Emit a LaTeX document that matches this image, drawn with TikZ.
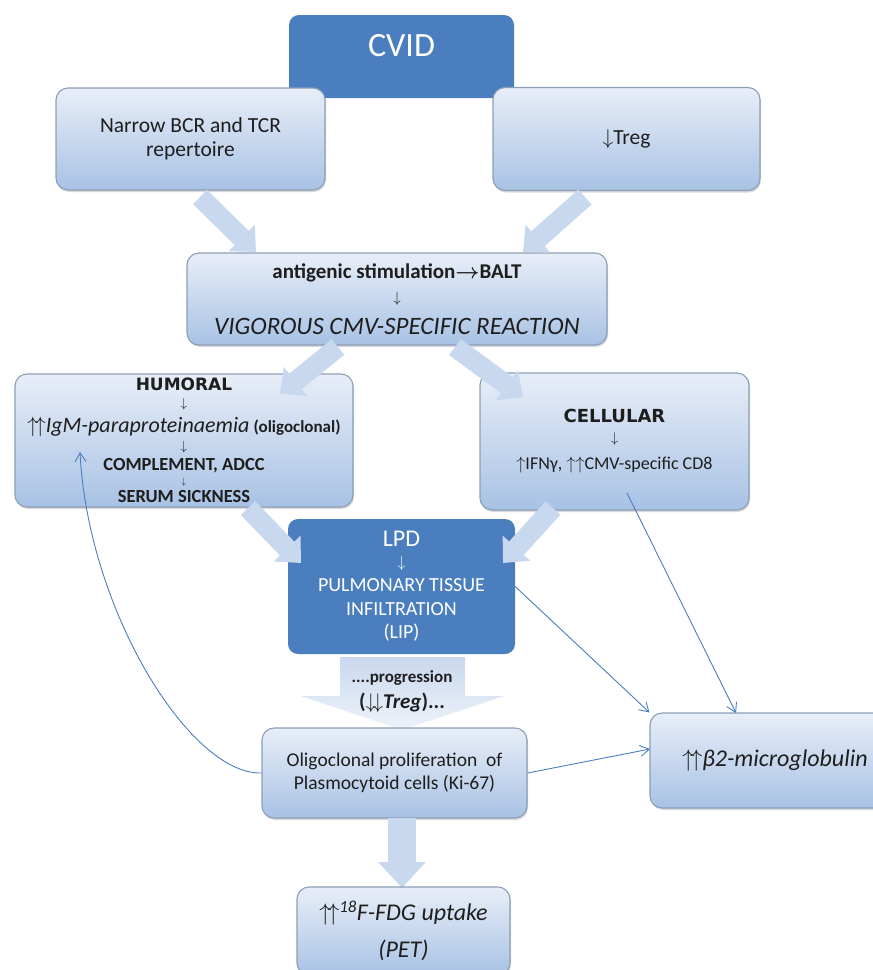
\documentclass[tikz,border=0pt]{standalone}
\usepackage{fix-cm}
\usepackage{fontspec}
\setmainfont{Carlito}
\newfontfamily\heavyfont{DejaVu Sans}
\usetikzlibrary{arrows.meta, shadows}

\definecolor{darkblue}{HTML}{4A7EBF}
\definecolor{boxtop}{HTML}{E8EEF8}
\definecolor{boxbottom}{HTML}{A8C2E4}
\definecolor{boxline}{HTML}{8C9EB6}
\definecolor{arrowfill}{HTML}{C8D8EE}
\definecolor{progtop}{HTML}{C9D8EE}
\definecolor{progbottom}{HTML}{EEF3FA}
\definecolor{txt}{HTML}{1E1E1E}

\tikzset{
  lightbox/.style={draw=boxline, line width=1.1pt, rounded corners=12pt, top color=boxtop, bottom color=boxbottom,
    align=center, text=txt, inner sep=0pt, drop shadow={shadow xshift=1pt, shadow yshift=-2pt, opacity=0.3}},
  darkbox/.style={fill=darkblue, rounded corners=10pt, align=center, text=white, inner sep=0pt},
  blockarrow/.style={line width=20pt, draw=arrowfill, -{Triangle[width=36pt,length=20pt]}},
  link/.style={draw=darkblue, line width=0.9pt, -{Straight Barb[length=9pt,width=11pt]}},
}

\begin{document}
\begin{tikzpicture}[x=1pt, y=-1pt]
  \useasboundingbox (0,0) rectangle (873,970);
  \clip (0,0) rectangle (873,970);

  % top row
  \node[darkbox, minimum width=225pt, minimum height=83pt, text height=22pt, text depth=22pt,
    font=\fontsize{34}{36}\selectfont] (cvid) at (401.5,56.5) {CVID};
  \node[lightbox, minimum width=269pt, minimum height=102pt, font=\fontsize{21.5}{24}\selectfont] (narrow) at (190.5,139)
    {Narrow BCR and TCR\\repertoire};
  \node[lightbox, minimum width=267pt, minimum height=103pt, font=\fontsize{21.5}{24}\selectfont] (treg) at (626.5,139)
    {$\downarrow$Treg};

  \coordinate (a1s) at (200,197); \coordinate (a1e) at (256,252);
  \coordinate (a2s) at (585,197); \coordinate (a2e) at (523,252);

  \node[lightbox, minimum width=420pt, minimum height=92pt, font=\fontsize{21}{24}\selectfont] (antig) at (397,299)
    {\textbf{antigenic stimulation{\boldmath$\rightarrow$}BALT}\\[0pt]
     {\fontsize{15}{17}\selectfont$\downarrow$}\\[8pt]
     {\itshape\fontsize{25}{28}\selectfont VIGOROUS CMV-SPECIFIC REACTION}};
  \draw[blockarrow] (a1s) -- (a1e);
  \draw[blockarrow] (a2s) -- (a2e);

  % humoral / cellular
  \node[lightbox, minimum width=338pt, minimum height=133pt, font=\fontsize{18.5}{20}\selectfont\bfseries] (humoral) at (184,440.5)
    {{\heavyfont\bfseries\fontsize{17}{20}\selectfont HUMORAL}\\[-3pt]
     {\mdseries\fontsize{13}{15}\selectfont$\downarrow$}\\[5pt]
     {\mdseries\itshape\fontsize{22}{24}\selectfont $\uparrow\!\uparrow$IgM-paraproteinaemia} {\fontsize{17}{20}\selectfont(oligoclonal)}\\[-2pt]
     {\mdseries\fontsize{13}{15}\selectfont$\downarrow$}\\[0pt]
     COMPLEMENT, ADCC\\[-6pt]
     {\mdseries\fontsize{9}{10}\selectfont$\downarrow$}\\[-2pt]
     SERUM SICKNESS};
  \node[lightbox, minimum width=269pt, minimum height=137pt, font=\fontsize{18}{20}\selectfont] (cellular) at (614.5,441.5)
    {{\heavyfont\bfseries\fontsize{18}{20}\selectfont CELLULAR}\\[0pt]
     {\fontsize{14}{16}\selectfont$\downarrow$}\\[7pt]
     $\uparrow$IFNγ, $\uparrow\uparrow$CMV-specific CD8};

  \coordinate (a3s) at (338,347); \coordinate (a3e) at (280,394);
  \coordinate (a4s) at (455,347); \coordinate (a4e) at (523,397);
  \draw[blockarrow] (a3s) -- (a3e);
  \draw[blockarrow] (a4s) -- (a4e);

  % lpd
  \node[darkbox, minimum width=227pt, minimum height=135pt, font=\fontsize{20}{23}\selectfont] (lpd) at (401.5,586.5)
    {{\fontsize{24}{26}\selectfont LPD}\\[-2pt]
     {\fontsize{16}{18}\selectfont$\downarrow$}\\[1pt]
     PULMONARY TISSUE\\[1pt]
     INFILTRATION\\
     (LIP)};
  \coordinate (a5s) at (248,508); \coordinate (a5e) at (301,563);
  \coordinate (a6s) at (553,508); \coordinate (a6e) at (503,563);
  \draw[blockarrow] (a5s) -- (a5e);
  \draw[blockarrow] (a6s) -- (a6e);

  % progression
  \shade[top color=progtop, bottom color=progbottom]
    (340,657) -- (465,657) -- (465,696) -- (504,696) -- (402.5,730) -- (301,696) -- (340,696) -- cycle;
  \node[align=center, text=txt, inner sep=0pt, font=\fontsize{17}{20}\selectfont\bfseries] (prog) at (402,692)
    {....progression\\[6pt]
     {\fontsize{21}{22}\selectfont({\itshape$\downarrow\!\downarrow$Treg})...}};

  % lower row
  \node[lightbox, minimum width=265pt, minimum height=90pt, font=\fontsize{19.5}{23}\selectfont] (olig) at (394.5,773)
    {Oligoclonal proliferation\ \ of\\Plasmocytoid cells (Ki-67)};
  \node[lightbox, minimum width=250pt, minimum height=95pt, font=\itshape\fontsize{24}{26}\selectfont] (b2) at (775,760.5)
    {$\uparrow\!\uparrow$β2-microglobulin};

  \coordinate (sds) at (402,818); \coordinate (sde) at (402,888);
  \draw[line width=28pt, draw=arrowfill, -{Triangle[width=46pt,length=26pt]}] (sds) -- (sde);
  \node[lightbox, minimum width=213pt, minimum height=88pt, font=\itshape\fontsize{24}{24}\selectfont] (pet) at (403.5,931)
    {$\uparrow\!\uparrow$\textsuperscript{18}F-FDG uptake\\[13pt](PET)};

  % thin links
  \coordinate (humin) at (80,452);
  \coordinate (cellout) at (627,493);
  \coordinate (b2top) at (736,713);
  \coordinate (b2left) at (650,749);
  \draw[link] (olig.west) .. controls (190,775) and (88,610) .. (humin);
  \draw[link] (lpd.east) -- (b2.north west);
  \draw[link] (cellout) -- (b2top);
  \draw[link] (olig.east) -- (b2left);
\end{tikzpicture}
\end{document}
